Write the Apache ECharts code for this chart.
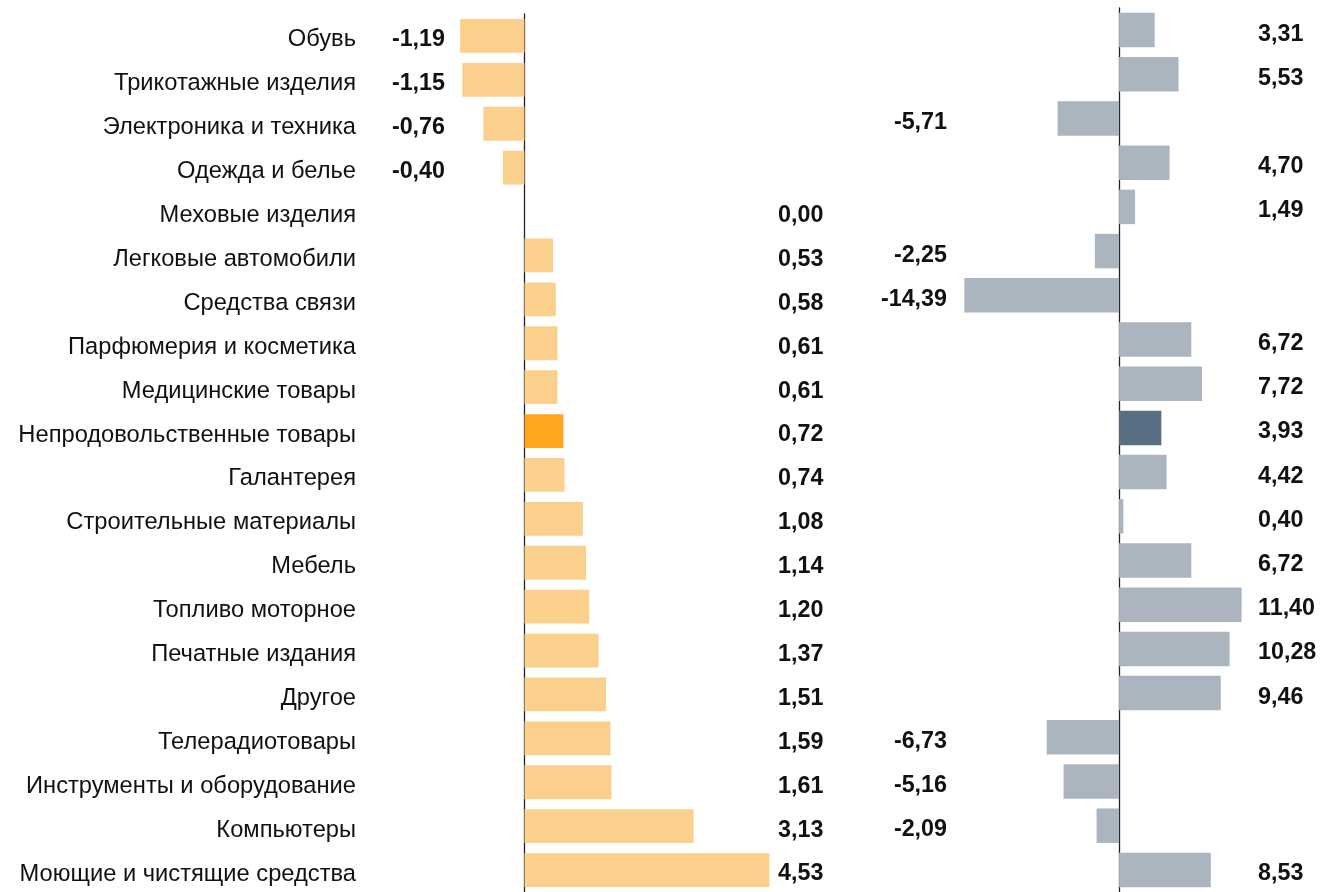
<!DOCTYPE html>
<html>
<head>
<meta charset="utf-8">
<script src="https://cdn.jsdelivr.net/npm/echarts@6/dist/echarts.min.js"></script>
<style>
html,body{margin:0;padding:0;background:#fff;}
#chart{width:1321px;height:892px;}
</style>
</head>
<body>
<div id="chart"></div>
<script>
const categories = ["Обувь","Трикотажные изделия","Электроника и техника","Одежда и белье","Меховые изделия","Легковые автомобили","Средства связи","Парфюмерия и косметика","Медицинские товары","Непродовольственные товары","Галантерея","Строительные материалы","Мебель","Топливо моторное","Печатные издания","Другое","Телерадиотовары","Инструменты и оборудование","Компьютеры","Моющие и чистящие средства"];
const leftValues = [-1.19,-1.15,-0.76,-0.40,0.00,0.53,0.58,0.61,0.61,0.72,0.74,1.08,1.14,1.20,1.37,1.51,1.59,1.61,3.13,4.53];
const rightValues = [3.31,5.53,-5.71,4.70,1.49,-2.25,-14.39,6.72,7.72,3.93,4.42,0.40,6.72,11.40,10.28,9.46,-6.73,-5.16,-2.09,8.53];
const highlight = "Непродовольственные товары";

const fmt = v => v.toFixed(2).replace('.', ',');
const FONT = "'Liberation Sans', Arial, sans-serif";
const valLabel = {fontFamily: FONT, fontWeight: 'bold', fontSize: 23.3, color: '#111', verticalAlign: 'top', lineHeight: 8};

function catAxis(grid, opts) {
  return Object.assign({
    type: 'category', gridIndex: grid, data: categories, inverse: true,
    axisTick: {show: false}, splitLine: {show: false},
    axisLine: {show: false, onZero: false},
    axisLabel: {show: false}
  }, opts);
}

const chart = echarts.init(document.getElementById('chart'));
chart.setOption({
  animation: false,
  textStyle: {fontFamily: FONT},
  grid: [
    {left: 445, width: 333, top: 14, bottom: -8},
    {left: 947, width: 311, top: 8, bottom: -2}
  ],
  xAxis: [
    {type: 'value', gridIndex: 0, min: -1.47, max: 4.69, show: false},
    {type: 'value', gridIndex: 1, min: -16, max: 12.92, show: false}
  ],
  yAxis: [
    catAxis(0, {axisLine: {show: true, onZero: true, lineStyle: {color: '#222', width: 1.3}}}),
    catAxis(0, {position: 'left', axisLabel: {show: true, margin: 89, fontFamily: FONT, fontSize: 23.7, color: '#111', verticalAlign: 'top', lineHeight: 8}}),
    catAxis(0, {position: 'left', axisLabel: Object.assign({show: true, margin: 0, formatter: (v, i) => leftValues[i] < 0 ? fmt(leftValues[i]) : ''}, valLabel)}),
    catAxis(0, {position: 'right', axisLabel: Object.assign({show: true, margin: 0, formatter: (v, i) => leftValues[i] >= 0 ? fmt(leftValues[i]) : ''}, valLabel)}),
    catAxis(1, {axisLine: {show: true, onZero: true, lineStyle: {color: '#222', width: 1.3}}}),
    catAxis(1, {position: 'left', axisLabel: Object.assign({show: true, margin: 0, formatter: (v, i) => rightValues[i] < 0 ? fmt(rightValues[i]) : ''}, valLabel)}),
    catAxis(1, {position: 'right', axisLabel: Object.assign({show: true, margin: 0, formatter: (v, i) => rightValues[i] >= 0 ? fmt(rightValues[i]) : ''}, valLabel)})
  ],
  series: [
    {
      type: 'bar', xAxisIndex: 0, yAxisIndex: 0, barWidth: '77%',
      data: leftValues.map((v, i) => ({value: v, itemStyle: {color: categories[i] === highlight ? '#FFA51F' : '#FAD08C'}}))
    },
    {
      type: 'bar', xAxisIndex: 1, yAxisIndex: 4, barWidth: '78%',
      data: rightValues.map((v, i) => ({value: v, itemStyle: {color: categories[i] === highlight ? '#5A6E83' : '#ABB5BF'}}))
    }
  ]
});
</script>
</body>
</html>
